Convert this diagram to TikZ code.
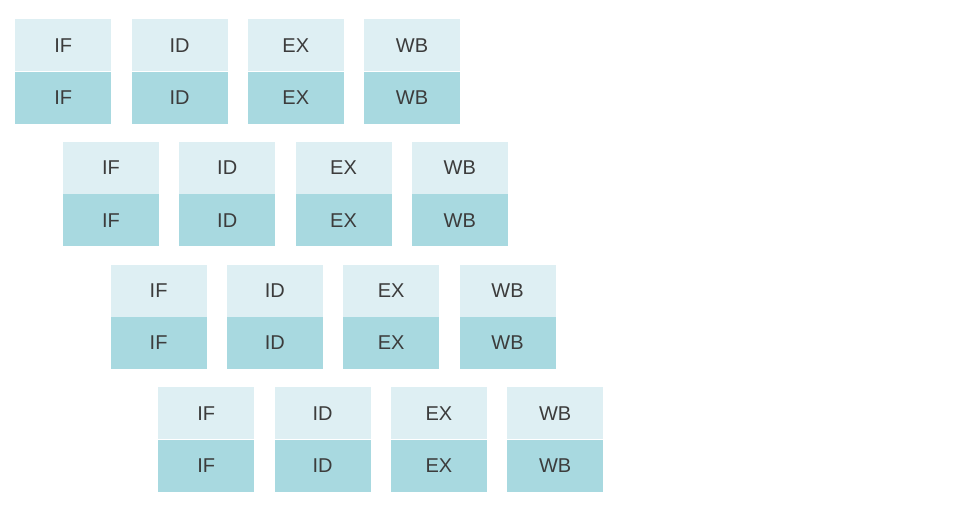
\documentclass[tikz,border=0pt]{standalone}
\usepackage{fontspec}
\setmainfont{Liberation Sans}
\definecolor{toplight}{RGB}{222,239,243}
\definecolor{botdark}{RGB}{168,217,224}
\definecolor{txt}{RGB}{60,60,60}
\begin{document}
\begin{tikzpicture}[x=1pt,y=1pt,
  half/.style={minimum width=96pt,minimum height=52pt,inner sep=0pt,anchor=north west,
    text=txt,font=\fontsize{20}{22}\selectfont},
  tophalf/.style={half,fill=toplight},
  bothalf/.style={half,fill=botdark}]
\useasboundingbox[fill=white] (0,0) rectangle (966,-510);
\foreach \r in {0,1,2,3}{
  \foreach \c/\lab in {0/IF,1/ID,2/EX,3/WB}{
    \pgfmathsetmacro{\xx}{15+47.7*\r+116.3*\c}
    \pgfmathsetmacro{\yy}{-(19+122.7*\r)}
    \node[tophalf] (t\r\c) at (\xx,\yy) {\lab};
    \node[bothalf] (b\r\c) at (t\r\c.south west) {\lab};
  }
}
\end{tikzpicture}
\end{document}
